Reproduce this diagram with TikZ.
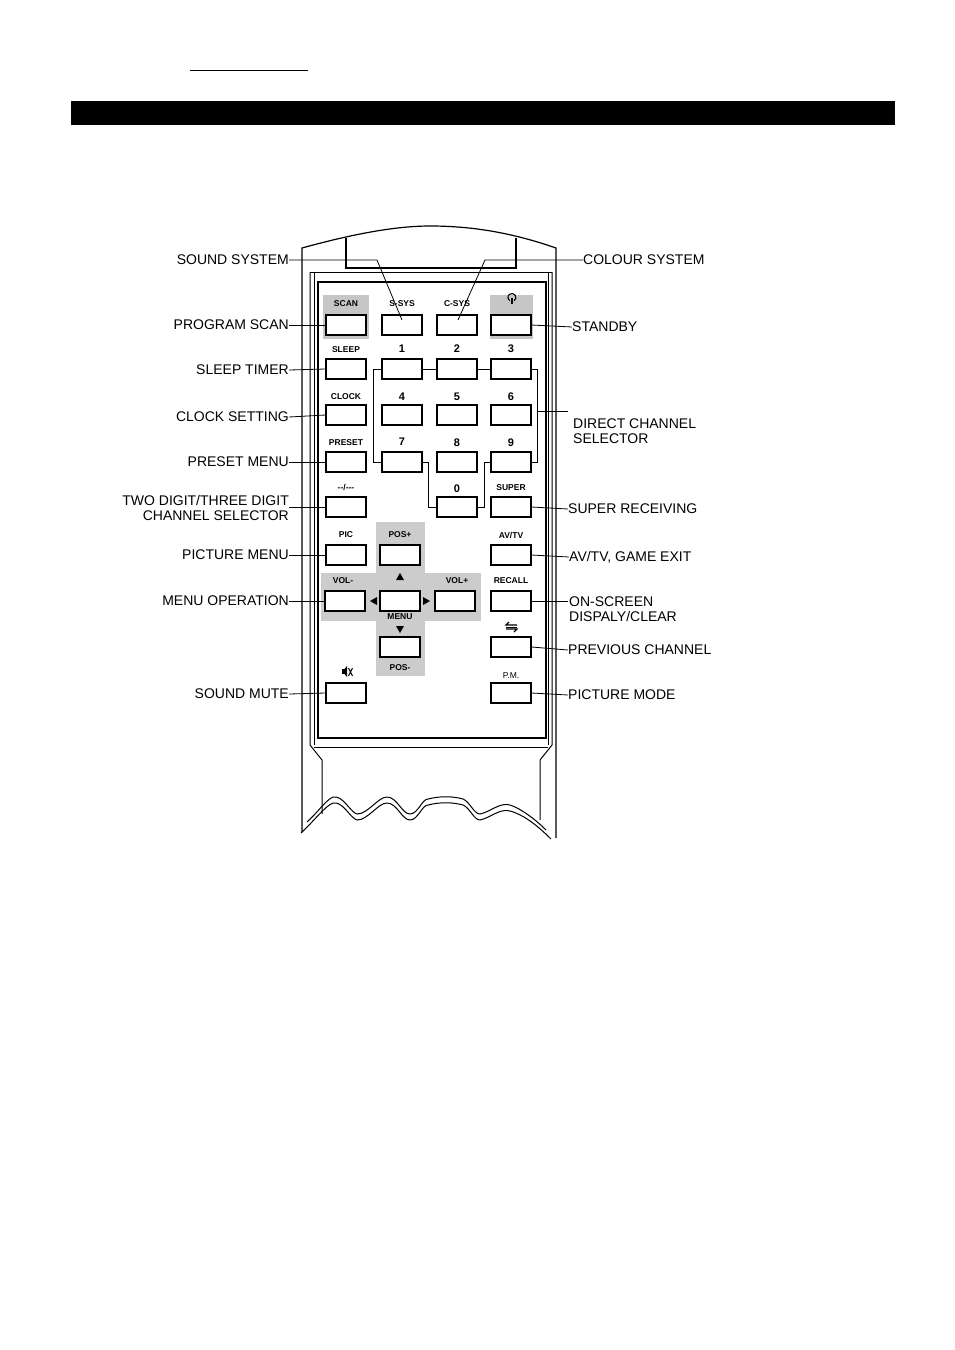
\documentclass[tikz,border=0pt]{standalone}
\usepackage{fontspec}
\setmainfont{Liberation Sans}
\begin{document}
\begin{tikzpicture}[x=1pt,y=-1pt,
  btn/.style={draw,line width=1.1pt,fill=white,minimum width=40pt,minimum height=20pt,inner sep=0pt},
  blab/.style={font=\fontsize{8.5}{10}\selectfont\bfseries,inner sep=0pt},
  lab/.style={font=\fontsize{14}{15.5}\selectfont,inner sep=0pt,align=left},
  rlab/.style={font=\fontsize{14}{15.5}\selectfont,inner sep=0pt,align=right},
  ln/.style={line width=0.8pt}]
\useasboundingbox (0,0) rectangle (954,1350);
\fill[white] (0,0) rectangle (954,1350);
% header
\draw[line width=1pt] (190,70) -- (308,70);
\fill[black] (71,101) rectangle (895,125);
% remote body
\draw[line width=1.2pt] (302,832) -- (302,248) .. controls (360,232) and (400,226) .. (430,226) .. controls (470,226) and (510,232) .. (556,248) -- (556,838);
\draw[line width=1.2pt] (346,238) -- (346,268) -- (516,268) -- (516,238);
\draw[line width=1pt] (310,272) -- (310,745) -- (322,760) -- (322,814);
\draw[line width=1pt] (314,272) -- (314,745);
\draw[line width=1pt] (310,272) -- (552,272);
\draw[line width=1pt] (552,272) -- (552,745) -- (540,760) -- (540,820);
\draw[line width=1pt] (548,272) -- (548,745);
\draw[line width=1.5pt] (318,282) rectangle (546,738);
\draw[line width=1pt] (314,747) -- (548,747);
\draw[line width=1pt] (301,833) .. controls (315,820) and (325,806) .. (333,803) .. controls (343,801) and (350,818) .. (357,820) .. controls (368,820) and (378,803) .. (387,803) .. controls (397,803) and (402,820) .. (410,820) .. controls (418,820) and (422,805) .. (428,805) .. controls (440,802) and (452,802) .. (463,805) .. controls (470,808) and (474,820) .. (480,820) .. controls (490,818) and (500,808) .. (510,811) .. controls (525,815) and (540,828) .. (551,839);
\draw[line width=1pt] (307,822) .. controls (318,812) and (326,800) .. (333,797) .. controls (343,795) and (350,812) .. (357,814) .. controls (368,814) and (378,797) .. (387,797) .. controls (397,797) and (402,814) .. (410,814) .. controls (418,814) and (422,799) .. (428,799) .. controls (440,796) and (452,796) .. (463,799) .. controls (470,802) and (474,814) .. (480,814) .. controls (490,812) and (500,802) .. (510,805) .. controls (522,809) and (536,820) .. (546,830);
% grey areas
\fill[gray!45] (323,295) rectangle (369,339);
\fill[gray!45] (490,295) rectangle (533,339);
\fill[gray!40] (376,522) rectangle (425,676);
\fill[gray!40] (321,573) rectangle (481,621);
% buttons
\def\cA{346}\def\cB{402}\def\cC{457}\def\cD{511}
\node[btn] (scan) at (\cA,325) {};
\node[btn] (ssys) at (\cB,325) {};
\node[btn] (csys) at (\cC,325) {};
\node[btn] (stby) at (\cD,325) {};
\node[btn] (sleep) at (\cA,369) {};
\node[btn] (b1) at (\cB,369) {};
\node[btn] (b2) at (\cC,369) {};
\node[btn] (b3) at (\cD,369) {};
\node[btn] (clock) at (\cA,415) {};
\node[btn] (b4) at (\cB,415) {};
\node[btn] (b5) at (\cC,415) {};
\node[btn] (b6) at (\cD,415) {};
\node[btn] (preset) at (\cA,462) {};
\node[btn] (b7) at (\cB,462) {};
\node[btn] (b8) at (\cC,462) {};
\node[btn] (b9) at (\cD,462) {};
\node[btn] (dig) at (\cA,507) {};
\node[btn] (b0) at (\cC,507) {};
\node[btn] (super) at (\cD,507) {};
\node[btn] (pic) at (\cA,555) {};
\node[btn] (posp) at (400,555) {};
\node[btn] (avtv) at (\cD,555) {};
\node[btn] (volm) at (345,601) {};
\node[btn] (menu) at (400,601) {};
\node[btn] (volp) at (455,601) {};
\node[btn] (recall) at (\cD,601) {};
\node[btn] (posm) at (400,647) {};
\node[btn] (prev) at (\cD,647) {};
\node[btn] (mute) at (\cA,693) {};
\node[btn] (pm) at (\cD,693) {};
% button labels
\node[blab] at (\cA,304) {SCAN};
\node[blab] at (\cB,304) {S-SYS};
\node[blab] at (\cC,304) {C-SYS};
\draw[line width=1.1pt] (514.2,300.8) arc[start angle=55,end angle=-235,radius=4];
\draw[line width=1.1pt] (512,298) -- (512,304);
\node[blab] at (\cA,350) {SLEEP};
\node[blab,font=\fontsize{11}{12}\selectfont\bfseries] at (\cB,349) {1};
\node[blab,font=\fontsize{11}{12}\selectfont\bfseries] at (\cC,349) {2};
\node[blab,font=\fontsize{11}{12}\selectfont\bfseries] at (\cD,349) {3};
\node[blab] at (\cA,397) {CLOCK};
\node[blab,font=\fontsize{11}{12}\selectfont\bfseries] at (\cB,397) {4};
\node[blab,font=\fontsize{11}{12}\selectfont\bfseries] at (\cC,397) {5};
\node[blab,font=\fontsize{11}{12}\selectfont\bfseries] at (\cD,397) {6};
\node[blab] at (\cA,443) {PRESET};
\node[blab,font=\fontsize{11}{12}\selectfont\bfseries] at (\cB,442) {7};
\node[blab,font=\fontsize{11}{12}\selectfont\bfseries] at (\cC,443) {8};
\node[blab,font=\fontsize{11}{12}\selectfont\bfseries] at (\cD,443) {9};
\node[blab] at (\cA,487) {-{}-/-{}-{}-};
\node[blab,font=\fontsize{11}{12}\selectfont\bfseries] at (\cC,489) {0};
\node[blab] at (\cD,488) {SUPER};
\node[blab] at (\cA,535) {PIC};
\node[blab] at (400,535) {POS+};
\node[blab] at (\cD,535) {AV/TV};
\node[blab] at (343,581) {VOL-};
\node[blab] at (457,581) {VOL+};
\node[blab] at (\cD,581) {RECALL};
\node[blab] at (400,617) {MENU};
\node[blab] at (400,668) {POS-};
\node[blab,font=\fontsize{8.5}{10}\selectfont] at (\cD,676) {P.M.};
\fill (400,573) -- (396,580) -- (404,580) -- cycle;
\fill (400,633) -- (396,626) -- (404,626) -- cycle;
\fill (370,601) -- (377,597) -- (377,605) -- cycle;
\fill (430,601) -- (423,597) -- (423,605) -- cycle;
% mute icon
\fill (342,669) rectangle (344.5,674);
\fill (344.5,669) -- (347,666) -- (347,677) -- (344.5,674) -- cycle;
\draw[line width=1pt] (348.5,668) -- (352.5,676) (348.5,676) -- (352.5,668);
% previous icon
\draw[line width=1.2pt] (517,625) -- (506,625) -- (509,622);
\draw[line width=1.2pt] (506,629) -- (517,629) -- (514,632);
\draw[line width=1pt] (506,627) -- (517,627);
% channel bracket
\draw[ln] (b1.west) -- (373,369) -- (373,462) -- (b7.west);
\draw[ln] (b1.east) -- (b2.west) (b2.east) -- (b3.west);
\draw[ln] (b3.east) -- (537,369) -- (537,462) -- (b9.east);
\draw[ln] (b7.east) -- (428,462) -- (428,507) -- (b0.west);
\draw[ln] (b0.east) -- (484,507) -- (484,462) -- (b9.west);
% left labels
\node[rlab,anchor=east] (lss) at (289,260) {SOUND SYSTEM};
\node[rlab,anchor=east] (lps) at (289,325) {PROGRAM SCAN};
\node[rlab,anchor=east] (lst) at (289,370) {SLEEP TIMER};
\node[rlab,anchor=east] (lcs) at (289,417) {CLOCK SETTING};
\node[rlab,anchor=east] (lpm) at (289,462) {PRESET MENU};
\node[rlab,anchor=east] (ltd) at (289,508) {TWO DIGIT/THREE DIGIT\\CHANNEL SELECTOR};
\node[rlab,anchor=east] (lpic) at (289,555) {PICTURE MENU};
\node[rlab,anchor=east] (lmo) at (289,601) {MENU OPERATION};
\node[rlab,anchor=east] (lsm) at (289,694) {SOUND MUTE};
\draw[ln] (lss.east) -- (377,260) -- (402,320);
\draw[ln] (lps.east) -- (scan.west);
\draw[ln] (lst.east) -- (sleep.west);
\draw[ln] (lcs.east) -- (clock.west);
\draw[ln] (lpm.east) -- (preset.west);
\draw[ln] (289,507) -- (dig.west);
\draw[ln] (lpic.east) -- (pic.west);
\draw[ln] (lmo.east) -- (volm.west);
\draw[ln] (lsm.east) -- (mute.west);
% right labels
\node[lab,anchor=west] (rcs) at (583,260) {COLOUR SYSTEM};
\node[lab,anchor=west] (rsb) at (572,327) {STANDBY};
\node[lab,anchor=west] (rdc) at (573,431) {DIRECT CHANNEL\\SELECTOR};
\node[lab,anchor=west] (rsr) at (568,509) {SUPER RECEIVING};
\node[lab,anchor=west] (rav) at (569,557) {AV/TV, GAME EXIT};
\node[lab,anchor=west] (ros) at (569,609) {ON-SCREEN\\DISPALY/CLEAR};
\node[lab,anchor=west] (rpc) at (568,650) {PREVIOUS CHANNEL};
\node[lab,anchor=west] (rpm) at (568,695) {PICTURE MODE};
\draw[ln] (rcs.west) -- (485,260) -- (458,320);
\draw[ln] (stby.east) -- (rsb.west);
\draw[ln] (537,411) -- (568,411);
\draw[ln] (super.east) -- (rsr.west);
\draw[ln] (avtv.east) -- (rav.west);
\draw[ln] (recall.east) -- (568,601);
\draw[ln] (prev.east) -- (rpc.west);
\draw[ln] (pm.east) -- (rpm.west);
\end{tikzpicture}
\end{document}
